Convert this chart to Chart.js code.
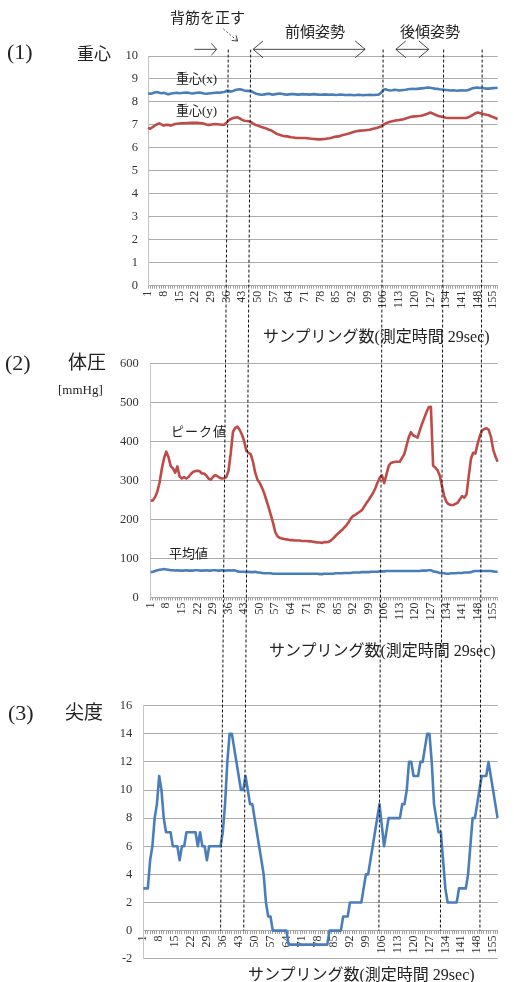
<!DOCTYPE html>
<html lang="ja">
<head>
<meta charset="UTF-8">
<title>重心・体圧・尖度</title>
<script src="https://cdn.jsdelivr.net/npm/chart.js@4.4.0/dist/chart.umd.js"></script>
<style>
  * { margin: 0; padding: 0; box-sizing: border-box; }
  body { width: 514px; height: 982px; background: #fff; overflow: hidden; position: relative; }
  canvas { position: absolute; left: 0; }
  .t {
    position: absolute;
    white-space: nowrap;
    line-height: 1;
    color: #222;
    font-family: "Liberation Serif", "Noto Sans CJK JP", serif;
  }
</style>
</head>
<body>
  <canvas id="c1" width="514" height="320" style="top:0px"></canvas>
  <canvas id="c2" width="514" height="300" style="top:340px"></canvas>
  <canvas id="c3" width="514" height="300" style="top:680px"></canvas>
  <canvas id="overlay" width="514" height="982" style="top:0px"></canvas>

  <div class="t" style="left:170px;top:11px;font-size:15px">背筋を正す</div>
  <div class="t" style="left:285px;top:25px;font-size:15px">前傾姿勢</div>
  <div class="t" style="left:400px;top:25px;font-size:15px">後傾姿勢</div>

  <div class="t" style="left:7px;top:41px;font-size:22px">(1)</div>
  <div class="t" style="left:77px;top:46px;font-size:17px">重心</div>
  <div class="t" style="left:176px;top:72px;font-size:13px">重心(x)</div>
  <div class="t" style="left:176px;top:104px;font-size:13px">重心(y)</div>
  <div class="t" style="left:263px;top:329px;font-size:16px">サンプリング数(測定時間 29sec)</div>

  <div class="t" style="left:5px;top:352px;font-size:22px">(2)</div>
  <div class="t" style="left:68px;top:353px;font-size:19px">体圧</div>
  <div class="t" style="left:58px;top:383px;font-size:13px">[mmHg]</div>
  <div class="t" style="left:171px;top:425px;font-size:13px;letter-spacing:1px">ピーク値</div>
  <div class="t" style="left:169px;top:547px;font-size:13px">平均値</div>
  <div class="t" style="left:269px;top:643px;font-size:16px">サンプリング数(測定時間 29sec)</div>

  <div class="t" style="left:8px;top:702px;font-size:22px">(3)</div>
  <div class="t" style="left:65px;top:703px;font-size:19px">尖度</div>
  <div class="t" style="left:248px;top:967px;font-size:16px">サンプリング数(測定時間 29sec)</div>

<script>
const FONT = '"Liberation Serif", "Noto Sans CJK JP", serif';
const BLUE = '#4a7ebb';
const RED = '#be4b48';

// sample numbers 1..157, every 7th one is labelled
const samples = Array.from({ length: 157 }, (_, i) => String(i + 1));

// (1) centre of gravity
const cogX = [
  8.37, 8.36, 8.38, 8.41, 8.43, 8.40, 8.38, 8.40, 8.37, 8.33, 8.36, 8.38, 8.39, 8.40, 8.38, 8.39, 8.40, 8.41, 8.40, 8.38,
  8.37, 8.39, 8.40, 8.41, 8.39, 8.37, 8.36, 8.37, 8.38, 8.39, 8.40, 8.41, 8.40, 8.42, 8.43, 8.48, 8.47, 8.45, 8.48, 8.52,
  8.54, 8.55, 8.53, 8.50, 8.48, 8.49, 8.47, 8.42, 8.37, 8.34, 8.32, 8.31, 8.33, 8.35, 8.36, 8.33, 8.32, 8.34, 8.36, 8.37,
  8.35, 8.33, 8.32, 8.33, 8.34, 8.34, 8.33, 8.32, 8.33, 8.34, 8.33, 8.33, 8.32, 8.33, 8.34, 8.33, 8.32, 8.31, 8.32, 8.33,
  8.32, 8.31, 8.32, 8.31, 8.30, 8.31, 8.32, 8.31, 8.30, 8.30, 8.31, 8.30, 8.29, 8.30, 8.31, 8.30, 8.29, 8.30, 8.30, 8.31,
  8.30, 8.30, 8.31, 8.32, 8.40, 8.53, 8.55, 8.52, 8.50, 8.51, 8.53, 8.52, 8.50, 8.51, 8.52, 8.53, 8.55, 8.56, 8.57, 8.56,
  8.57, 8.58, 8.59, 8.60, 8.62, 8.63, 8.62, 8.60, 8.58, 8.57, 8.55, 8.54, 8.53, 8.52, 8.51, 8.50, 8.51, 8.50, 8.49, 8.50,
  8.51, 8.50, 8.50, 8.52, 8.56, 8.60, 8.62, 8.63, 8.61, 8.62, 8.60, 8.58, 8.58, 8.59, 8.60, 8.61, 8.62
];
const cogY = [
  6.87, 6.83, 6.90, 6.97, 7.02, 7.07, 7.02, 6.97, 7.00, 7.01, 6.97, 7.00, 7.04, 7.05, 7.06, 7.07, 7.07, 7.08, 7.08, 7.09,
  7.09, 7.09, 7.09, 7.08, 7.07, 7.05, 7.02, 7.00, 7.01, 7.03, 7.04, 7.03, 7.02, 7.01, 7.01, 7.10, 7.20, 7.26, 7.30, 7.32,
  7.33, 7.28, 7.22, 7.18, 7.17, 7.16, 7.12, 7.05, 7.00, 6.97, 6.93, 6.90, 6.87, 6.83, 6.79, 6.76, 6.70, 6.63, 6.59, 6.56,
  6.53, 6.51, 6.50, 6.48, 6.46, 6.45, 6.43, 6.43, 6.43, 6.43, 6.43, 6.42, 6.41, 6.40, 6.39, 6.38, 6.37, 6.37, 6.38, 6.39,
  6.41, 6.42, 6.44, 6.47, 6.49, 6.50, 6.53, 6.56, 6.58, 6.61, 6.64, 6.67, 6.70, 6.72, 6.74, 6.75, 6.76, 6.77, 6.78, 6.79,
  6.82, 6.84, 6.87, 6.90, 6.93, 7.00, 7.06, 7.11, 7.14, 7.16, 7.18, 7.20, 7.21, 7.23, 7.25, 7.28, 7.31, 7.34, 7.36, 7.37,
  7.38, 7.39, 7.40, 7.43, 7.46, 7.50, 7.54, 7.50, 7.45, 7.41, 7.38, 7.36, 7.33, 7.31, 7.30, 7.30, 7.30, 7.30, 7.30, 7.30,
  7.30, 7.30, 7.30, 7.33, 7.38, 7.44, 7.50, 7.54, 7.52, 7.49, 7.46, 7.44, 7.42, 7.38, 7.34, 7.30, 7.26
];

// (2) body pressure [mmHg]
const pressurePeak = [
  248, 249, 258, 272, 295, 330, 357, 374, 360, 337, 331, 320, 336, 310, 305, 309, 305, 309, 316, 322,
  324, 325, 324, 318, 318, 313, 305, 302, 309, 314, 311, 307, 305, 306, 309, 325, 370, 425, 435, 438,
  430, 418, 402, 376, 371, 367, 348, 320, 302, 294, 282, 268, 250, 232, 212, 192, 168, 157, 153, 151,
  150, 149, 148, 147, 147, 146, 146, 146, 145, 145, 145, 144, 144, 143, 142, 141, 141, 140, 142, 142,
  143, 146, 151, 157, 163, 168, 173, 179, 185, 193, 203, 209, 212, 216, 220, 224, 233, 242, 250, 259,
  268, 280, 294, 307, 313, 293, 315, 337, 345, 347, 348, 348, 348, 358, 367, 388, 410, 424, 416, 413,
  410, 428, 445, 460, 475, 488, 489, 338, 333, 326, 312, 285, 260, 245, 239, 237, 237, 240, 243, 251,
  260, 256, 264, 310, 355, 371, 369, 394, 414, 428, 432, 434, 430, 412, 380, 362, 348
];
const pressureMean = [
  65, 66, 68, 70, 71, 72, 73, 72, 71, 70, 70, 69, 70, 69, 69, 69, 70, 69, 69, 69,
  70, 70, 69, 69, 69, 70, 69, 69, 70, 70, 69, 69, 70, 69, 69, 70, 69, 70, 69, 67,
  66, 66, 66, 65, 66, 65, 65, 66, 64, 64, 63, 62, 62, 62, 62, 61, 61, 61, 61, 61,
  61, 61, 61, 61, 61, 61, 61, 61, 61, 61, 61, 61, 61, 61, 61, 61, 60, 60, 61, 61,
  61, 61, 61, 62, 62, 62, 62, 63, 63, 63, 63, 64, 64, 64, 64, 65, 65, 65, 65, 66,
  66, 66, 66, 67, 67, 67, 68, 68, 68, 68, 68, 68, 68, 68, 68, 68, 68, 68, 68, 68,
  68, 68, 69, 69, 69, 70, 70, 67, 66, 65, 63, 62, 62, 61, 61, 62, 62, 62, 63, 63,
  63, 64, 64, 64, 65, 67, 68, 68, 68, 68, 68, 68, 68, 68, 67, 66, 66
];

// (3) kurtosis
const kurtosis = [
  3, 3, 3, 5, 6, 8, 9, 11, 10, 8, 7, 7, 7, 6, 6, 6, 5, 6, 6, 7,
  7, 7, 7, 7, 6, 7, 6, 6, 5, 6, 6, 6, 6, 6, 6, 7, 9, 12, 14, 14,
  13, 12, 11, 10, 10, 11, 10, 9, 9, 8, 7, 6, 5, 4, 2, 1, 1, 0, 0, 0,
  0, 0, 0, 0, -1, -1, -1, -1, -1, -1, -1, -1, -1, -1, -1, -1, -1, -1, -1, -1,
  -1, -1, 0, 0, 0, 0, 0, 0, 1, 1, 1, 2, 2, 2, 2, 2, 2, 3, 4, 4,
  5, 6, 7, 8, 9, 7.5, 6, 7, 8, 8, 8, 8, 8, 8, 9, 9, 10, 12, 12, 11,
  11, 11, 12, 12, 13, 14, 14, 12, 9, 8, 7, 7, 5, 3, 2, 2, 2, 2, 2, 3,
  3, 3, 3, 4, 6, 8, 8, 9, 10, 11, 11, 11, 12, 11, 10, 9, 8
];

// posture change markers, as sample positions where the dashed line
// leaves chart (1) at the top and reaches chart (3) at the bottom
const markTop = [36.6, 46.6, 105.7, 132.7, 149.9];
const markBottom = [34.8, 45.0, 104.5, 131.6, 149.0];

function lineSet(data, color) {
  return {
    data,
    borderColor: color,
    borderWidth: 2.6,
    pointRadius: 0,
    tension: 0,
    borderJoinStyle: 'round',
    fill: false
  };
}

function options(o) {
  return {
    responsive: false,
    animation: false,
    layout: { padding: o.padding },
    plugins: { legend: { display: false }, tooltip: { enabled: false } },
    scales: {
      x: {
        type: 'category',
        position: o.xPosition || 'bottom',
        offset: false,
        afterFit: (s) => { s.height = o.xHeight || 0; },
        grid: { drawOnChartArea: false, tickLength: 3, color: '#a0a0a0', offset: false },
        border: { display: true, color: '#a8a8a8' },
        ticks: {
          autoSkip: false,
          minRotation: 90,
          maxRotation: 90,
          padding: 2,
          color: '#333',
          font: { family: FONT, size: 12 },
          callback: (v, i) => (i % 7 === 0 ? samples[i] : '')
        }
      },
      y: {
        min: o.min,
        max: o.max,
        afterFit: (s) => { s.width = o.yWidth; },
        grid: { color: '#acacac', drawTicks: false },
        border: { display: true, color: '#c4c4c4' },
        ticks: {
          stepSize: o.step,
          padding: o.yPad,
          color: '#333',
          font: { family: FONT, size: 12.5 }
        }
      }
    }
  };
}

const chart1 = new Chart(document.getElementById('c1'), {
  type: 'line',
  data: { labels: samples, datasets: [lineSet(cogX, BLUE), lineSet(cogY, RED)] },
  options: options({ min: 0, max: 10, step: 1, yWidth: 148, yPad: 10, xHeight: 34.3,
    padding: { top: 56, right: 3.5, left: 0, bottom: 0 } })
});

const chart2 = new Chart(document.getElementById('c2'), {
  type: 'line',
  data: { labels: samples, datasets: [lineSet(pressurePeak, RED), lineSet(pressureMean, BLUE)] },
  options: options({ min: 0, max: 600, step: 100, yWidth: 150.7, yPad: 12, xHeight: 42.5,
    padding: { top: 23.5, right: 1, left: 0, bottom: 0 } })
});

const chart3 = new Chart(document.getElementById('c3'), {
  type: 'line',
  data: { labels: samples, datasets: [lineSet(kurtosis, BLUE)] },
  options: options({ min: -2, max: 16, step: 2, yWidth: 143.3, yPad: 11, xPosition: { y: 0 },
    padding: { top: 25.7, right: 10, left: 0, bottom: 21.3 } })
});

// dashed markers and arrows, placed through the charts' own scales
const top1 = 0, top3 = 680;
const ov = document.getElementById('overlay').getContext('2d');

function px1(idx) { return chart1.scales.x.getPixelForValue(idx - 1); }
function py1(v) { return chart1.scales.y.getPixelForValue(v) + top1; }

ov.strokeStyle = '#111';
ov.lineWidth = 1;
ov.setLineDash([3, 2]);
markTop.forEach((t, k) => {
  ov.beginPath();
  ov.moveTo(px1(t) + 0.5, py1(10.28));
  ov.lineTo(chart3.scales.x.getPixelForValue(markBottom[k] - 1) + 0.5,
            chart3.scales.y.getPixelForValue(0) + top3);
  ov.stroke();
});

function head(x0, y0, x1, y1, len, ang) {
  const a = Math.atan2(y1 - y0, x1 - x0);
  ov.beginPath();
  ov.moveTo(x1 - len * Math.cos(a - ang), y1 - len * Math.sin(a - ang));
  ov.lineTo(x1, y1);
  ov.lineTo(x1 - len * Math.cos(a + ang), y1 - len * Math.sin(a + ang));
  ov.stroke();
}

function arrow(i0, v0, i1, v1, both, len, ang, dashed) {
  const x0 = px1(i0), y0 = py1(v0), x1 = px1(i1), y1 = py1(v1);
  ov.setLineDash(dashed ? [2, 2] : []);
  ov.beginPath();
  ov.moveTo(x0, y0);
  ov.lineTo(x1, y1);
  ov.stroke();
  ov.setLineDash([]);
  head(x0, y0, x1, y1, len, ang);
  if (both) head(x1, y1, x0, y0, len, ang);
}

ov.strokeStyle = '#333';
ov.lineWidth = 0.9;
arrow(21.7, 10.29, 31.6, 10.29, false, 8, 0.85, false);
arrow(34.6, 11.18, 41.0, 10.65, false, 6, 0.6, true);
arrow(47.9, 10.29, 97.9, 10.29, true, 13, 0.7, false);
arrow(111.6, 10.29, 126.3, 10.29, true, 13, 0.7, false);
</script>
</body>
</html>
